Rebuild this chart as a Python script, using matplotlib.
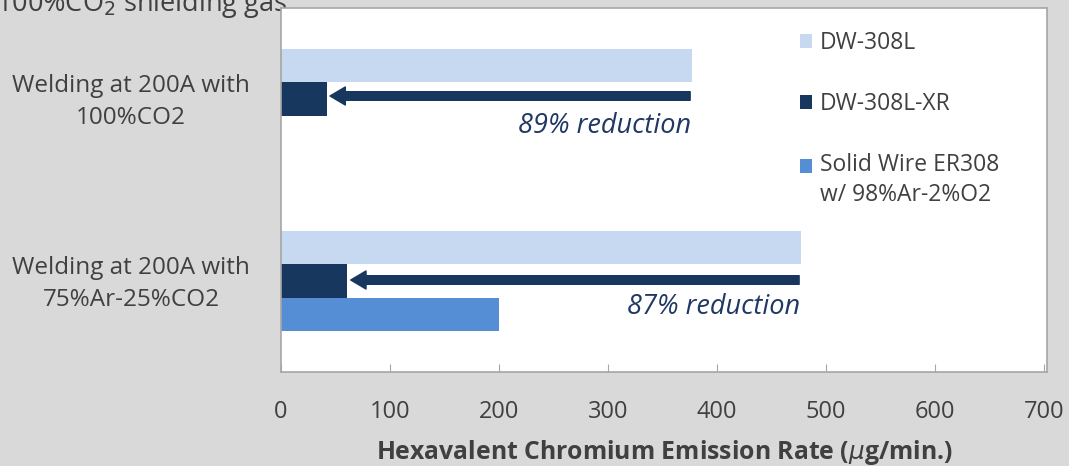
import matplotlib
matplotlib.use("Agg")
import matplotlib.pyplot as plt
import matplotlib.transforms as mtransforms
from matplotlib.legend_handler import HandlerPatch
from matplotlib.patches import Rectangle
import numpy as np

plt.rcParams['font.family'] = ['Open Sans', 'DejaVu Sans']

categories = ["Welding at 200A with\n100%CO2", "Welding at 200A with\n75%Ar-25%CO2"]
series_names = ["DW-308L", "DW-308L-XR", "Solid Wire ER308\nw/ 98%Ar-2%O2"]
dw308l = [377, 477]
dw308l_xr = [42, 61]
solid = [np.nan, 200]
reductions = ["89% reduction", "87% reduction"]
xticks = [0, 100, 200, 300, 400, 500, 600, 700]

colors = ["#c6d9f0", "#17375e", "#558ed5"]
bg = "#d9d9d9"
txt = "#404040"


class TopAlignedSquare(HandlerPatch):
    def __init__(self, shift=0.0, **kw):
        super().__init__(**kw)
        self.shift = shift

    def create_artists(self, legend, orig_handle, xdescent, ydescent, width, height, fontsize, trans):
        p = Rectangle((-xdescent, -ydescent + self.shift), width, height,
                      facecolor=orig_handle.get_facecolor(), edgecolor="none")
        p.set_transform(trans)
        return [p]


fig = plt.figure(figsize=(10.69, 4.66), dpi=100, facecolor=bg)
ax = fig.add_axes([281/1069, 1-372/466, (1047-281)/1069, (372-8)/466])
ax.set_facecolor("white")

y = np.array([0.5, 1.5])
h = 0.184
bars = []
for i, (vals, c, name) in enumerate(zip([dw308l, dw308l_xr, solid], colors, series_names)):
    bars.append(ax.barh(y + (i-1)*h, vals, height=h, color=c, label=name, zorder=2))

# arrows and reduction labels
arrow_y = [0.4835, 1.4945]
text_dy = [0.165, 0.15]
for k in range(2):
    ay = arrow_y[k]
    ax.annotate("", xy=(dw308l_xr[k] + 3, ay), xytext=(dw308l[k] - 1.5, ay),
                arrowprops=dict(arrowstyle="simple,head_length=1.1,head_width=1.3,tail_width=0.62",
                                mutation_scale=10, color="#17375e", shrinkA=0, shrinkB=0),
                zorder=3)
    ax.text(dw308l[k] - 1, ay + text_dy[k], reductions[k], ha="right", va="center",
            fontsize=19.5, style="italic", color="#1f3864", zorder=3)

ax.set_xlim(0, 703)
ax.set_ylim(2, 0)
ax.set_xticks(xticks)
ax.set_xticklabels([str(t) for t in xticks])
ax.set_yticks(y)
ax.set_yticklabels(categories, ha="center", multialignment="center", linespacing=1.42)
ax.tick_params(axis="y", length=0, pad=108, labelsize=17.5, labelcolor=txt)
ax.tick_params(axis="x", direction="in", length=6, color="#a6a6a6", pad=20,
               labelsize=17, labelcolor=txt)
offset = mtransforms.ScaledTranslation(0, 4/100, fig.dpi_scale_trans)
for lab in ax.get_yticklabels():
    lab.set_transform(lab.get_transform() + offset)
for s in ax.spines.values():
    s.set_color("#a6a6a6")
    s.set_linewidth(1.2)

ax.set_xlabel(r"Hexavalent Chromium Emission Rate ($\mu$g/min.)", fontsize=17.8,
              fontweight="bold", color=txt, labelpad=10)

handler_map = {bars[2].patches[1]: TopAlignedSquare(shift=10.5)}
leg = ax.legend([bars[0].patches[0], bars[1].patches[0], bars[2].patches[1]], series_names,
                handler_map=handler_map,
                loc="upper left", bbox_to_anchor=(0.647, 1.0), frameon=False,
                fontsize=16.5, labelcolor=txt, handlelength=0.55, handleheight=0.55,
                handletextpad=0.35, labelspacing=1.62, borderaxespad=0.6)
for t in leg.get_texts():
    t.set_linespacing(1.3)

fig.text(-0.004, 1-11/466, r"100%CO$_2$ shielding gas", fontsize=19.5, color=txt,
         va="baseline", ha="left", zorder=-1)

fig.savefig("out.png", dpi=100, facecolor=bg)
